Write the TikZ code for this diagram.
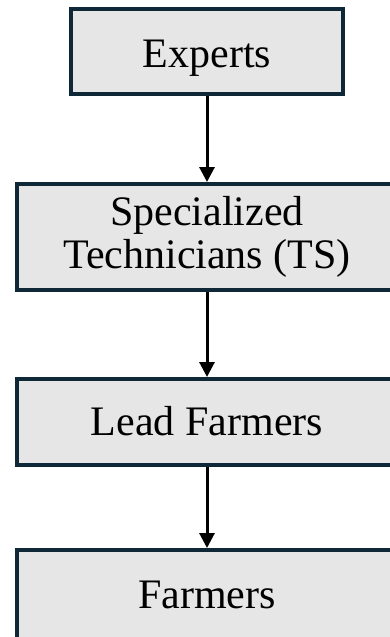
\documentclass[tikz,border=0pt]{standalone}
\usepackage{fontspec}
\setmainfont{Liberation Serif}
\usetikzlibrary{arrows.meta}
\definecolor{boxline}{RGB}{14,40,56}
\definecolor{boxfill}{RGB}{230,230,230}
\tikzset{
  levelbox/.style={draw=boxline, fill=boxfill, line width=4pt, inner sep=0pt,
    font=\fontsize{42}{43}\selectfont, align=center, text=black},
  flowarrow/.style={draw=black, line width=3pt,
    -{Triangle[width=15pt,length=15pt]}}
}
\begin{document}
\begin{tikzpicture}[x=1pt, y={(0pt,-1pt)}]
\clip (0,0) rectangle (390,637);
\fill[white] (0,0) rectangle (390,637);
\node[levelbox, minimum width=272pt, minimum height=85pt,
      text height=31pt, text depth=0pt] (exp) at (207,51.5) {Experts};
\node[levelbox, minimum width=380pt, minimum height=106pt] (ts) at (207,237)
      {Specialized\\Technicians (TS)};
\node[levelbox, minimum width=380pt, minimum height=86pt,
      text height=26pt, text depth=0pt] (lead) at (207,422) {Lead Farmers};
\node[levelbox, minimum width=380pt, minimum height=90pt,
      text height=26pt, text depth=0pt] (farm) at (207,595) {Farmers};
\draw[flowarrow] (exp.south) -- (ts.north);
\draw[flowarrow] (ts.south) -- (lead.north);
\draw[flowarrow] (lead.south) -- (farm.north);
\end{tikzpicture}
\end{document}
